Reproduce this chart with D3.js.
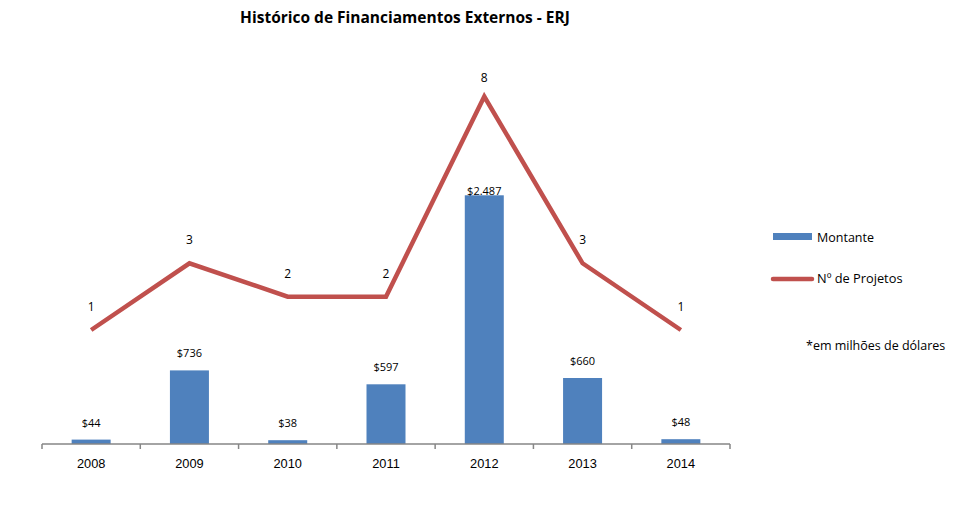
<!DOCTYPE html>
<html><head><meta charset="utf-8">
<script src="https://cdn.jsdelivr.net/npm/d3@7"></script>
<style>body{margin:0;background:#fff;}svg{display:block;font-family:"Open Sans","Noto Sans",sans-serif;}</style>
</head><body>
<svg id="c" width="963" height="517"></svg>
<script>
const years = ["2008","2009","2010","2011","2012","2013","2014"];
const montante = [44, 736, 38, 597, 2487, 660, 48];
const montanteLabels = ["$44","$736","$38","$597","$2.487","$660","$48"];
const projetos = [1, 3, 2, 2, 8, 3, 1];

const svg = d3.select("#c");
const x = d3.scaleBand().domain(years).range([42, 730]).paddingInner(0.6).paddingOuter(0.3);
const xc = d3.scalePoint().domain(years).range([42, 730]).padding(0.5);
const yBar = d3.scaleLinear().domain([0, 4000]).range([444, 44]);
const yLine = d3.scaleLinear().domain([1, 8]).range([330, 96.5]);

svg.append("text").attr("x", 405).attr("y", 23).attr("text-anchor", "middle")
  .attr("font-size", 15.5).attr("font-weight", "bold").attr("fill", "#000")
  .text("Histórico de Financiamentos Externos - ERJ");

// bars
const bw = 39;
svg.selectAll("rect.bar").data(years).join("rect").attr("class", "bar")
  .attr("x", d => xc(d) - bw / 2).attr("width", bw)
  .attr("y", (d, i) => yBar(montante[i])).attr("height", (d, i) => yBar(0) - yBar(montante[i]))
  .attr("fill", "#4F81BD");

// axis
const axis = d3.axisBottom(x).tickSize(0).tickPadding(15);
const gx = svg.append("g").attr("transform", "translate(0,444)").call(axis);
gx.select(".domain").attr("stroke", "#868686").attr("stroke-width", 1.5).attr("d", "M42,0H730");
gx.selectAll(".tick text").attr("font-size", 12.8).attr("fill", "#000").attr("font-family", "inherit");
const bounds = d3.range(years.length + 1).map(i => 42 + i * (730 - 42) / years.length);
gx.selectAll("line.b").data(bounds).join("line").attr("class", "b")
  .attr("x1", d => d).attr("x2", d => d).attr("y1", 0).attr("y2", 5)
  .attr("stroke", "#868686").attr("stroke-width", 1.5);

// bar labels
svg.selectAll("text.bl").data(years).join("text").attr("class", "bl")
  .attr("x", d => xc(d)).attr("y", (d, i) => i === 4 ? yBar(montante[i]) : yBar(montante[i]) - 13)
  .attr("text-anchor", "middle").attr("font-size", 11).attr("fill", "#000")
  .text((d, i) => montanteLabels[i]);

// line
const line = d3.line().x(d => xc(d[0])).y(d => yLine(d[1]));
svg.append("path").datum(years.map((y, i) => [y, projetos[i]]))
  .attr("d", line).attr("fill", "none").attr("stroke", "#C0504D")
  .attr("stroke-width", 4.5).attr("stroke-linejoin", "miter");

svg.selectAll("text.ll").data(years).join("text").attr("class", "ll")
  .attr("x", d => xc(d)).attr("y", (d, i) => yLine(projetos[i]) - (i === 4 ? 15 : 19))
  .attr("text-anchor", "middle").attr("font-size", 12).attr("fill", "#000")
  .text((d, i) => projetos[i]);

// legend
svg.append("rect").attr("x", 773).attr("y", 233).attr("width", 39).attr("height", 7).attr("fill", "#4F81BD");
svg.append("text").attr("x", 817).attr("y", 241.5).attr("font-size", 12.5).attr("fill", "#000").text("Montante");
svg.append("line").attr("x1", 773).attr("x2", 812).attr("y1", 279).attr("y2", 279)
  .attr("stroke", "#C0504D").attr("stroke-width", 4.5).attr("stroke-linecap", "round");
svg.append("text").attr("x", 817).attr("y", 283).attr("font-size", 12.8).attr("fill", "#000").text("Nº de Projetos");
svg.append("text").attr("x", 806).attr("y", 350).attr("font-size", 12.5).attr("fill", "#000").text("*em milhões de dólares");
</script>
</body></html>
